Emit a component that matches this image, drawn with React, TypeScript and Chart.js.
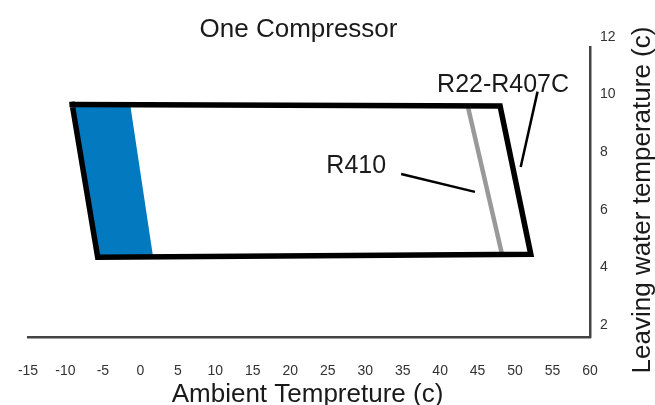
import { useEffect, useRef } from 'react';
import { Chart, registerables } from 'chart.js';

Chart.register(...registerables);

const FONT = '"Liberation Sans", Arial, Helvetica, sans-serif';

// Axis ticks
const yTickValues = [2, 4, 6, 8, 10, 12];
const xMin = -15;
const xMax = 60;
const xStep = 5;
const yMin = 1.58;
const yMax = 11.65;

// Operating envelope (black outline, R22-R407C)
const envelopeX = [-9.1, 48.0, 52.1, -5.7, -9.1];
const envelopeY = [9.65, 9.6, 4.45, 4.35, 9.65];

// Blue zone
const blueX = [-9.1, -1.35, 1.7, -5.7];
const blueY = [9.65, 9.63, 4.35, 4.35];

// R410 limit (grey line)
const r410X = [43.7, 48.3];
const r410Y = [9.58, 4.4];

// Leader lines
const leaderR22X = [53.0, 50.75];
const leaderR22Y = [10.1, 7.48];
const leaderR410X = [34.8, 44.65];
const leaderR410Y = [7.24, 6.62];

// Text annotations (data coordinates, text baseline)
const labelTexts = ['R22-R407C', 'R410'];
const labelX = [48.4, 28.8];
const labelY = [10.09, 7.28];

const titleText = 'One Compressor';
const titleAt = [21.1, 12.0];
const xTitle = 'Ambient Tempreture (c)';
const yTitle = 'Leaving water temperature (c)';

const pts = (xs: number[], ys: number[]) => xs.map((x, i) => ({ x, y: ys[i] }));

const textPlugin = {
  id: 'textPlugin',
  afterDraw(chart: any) {
    const { ctx, chartArea } = chart;
    const x = chart.scales.x;
    const y = chart.scales.y;
    ctx.save();
    ctx.fillStyle = '#1a1a1a';
    ctx.textAlign = 'center';
    ctx.textBaseline = 'alphabetic';
    ctx.font = `26px ${FONT}`;
    ctx.fillText(titleText, x.getPixelForValue(titleAt[0]), y.getPixelForValue(titleAt[1]));
    ctx.font = `25px ${FONT}`;
    labelTexts.forEach((t, i) => {
      ctx.fillText(t, x.getPixelForValue(labelX[i]), y.getPixelForValue(labelY[i]));
    });
    ctx.font = `26px ${FONT}`;
    ctx.fillText(xTitle, (chartArea.left + chartArea.right) / 2 - 1.5, chart.height - 3);
    ctx.translate(chartArea.right + 60, (chartArea.top + chartArea.bottom) / 2 + 8);
    ctx.rotate(-Math.PI / 2);
    ctx.fillText(yTitle, 0, 0);
    ctx.restore();
  },
};

export default function App() {
  const ref = useRef<HTMLCanvasElement>(null);
  useEffect(() => {
    document.body.style.margin = '0';
    const chart = new Chart(ref.current as HTMLCanvasElement, {
      type: 'scatter',
      data: {
        datasets: [
          {
            label: 'Zone',
            data: pts(blueX, blueY),
            showLine: true,
            fill: 'shape',
            backgroundColor: '#0379c0',
            borderColor: 'rgba(0,0,0,0)',
            borderWidth: 0,
            pointRadius: 0,
            order: 4,
          } as any,
          {
            label: 'R410',
            data: pts(r410X, r410Y),
            showLine: true,
            fill: false,
            borderColor: '#999999',
            borderWidth: 4.5,
            pointRadius: 0,
            order: 3,
          },
          {
            label: 'R22-R407C',
            data: pts(envelopeX, envelopeY),
            showLine: true,
            fill: false,
            borderColor: '#000000',
            borderWidth: 5.5,
            borderJoinStyle: 'miter',
            borderCapStyle: 'square',
            pointRadius: 0,
            order: 2,
          },
          {
            label: 'leader R22',
            data: pts(leaderR22X, leaderR22Y),
            showLine: true,
            fill: false,
            borderColor: '#000000',
            borderWidth: 2.5,
            pointRadius: 0,
            order: 1,
          },
          {
            label: 'leader R410',
            data: pts(leaderR410X, leaderR410Y),
            showLine: true,
            fill: false,
            borderColor: '#000000',
            borderWidth: 2.5,
            pointRadius: 0,
            order: 1,
          },
        ],
      },
      options: {
        responsive: false,
        animation: false,
        layout: { padding: { left: 28, top: 47, right: 0, bottom: 0 } },
        plugins: {
          legend: { display: false },
          tooltip: { enabled: false },
          title: { display: false },
        },
        scales: {
          x: {
            type: 'linear',
            position: 'bottom',
            min: xMin,
            max: xMax,
            afterFit: (axis: any) => {
              axis.height = 68;
              axis.paddingLeft = 0;
              axis.paddingRight = 0;
            },
            ticks: {
              stepSize: xStep,
              padding: 26,
              autoSkip: false,
              maxRotation: 0,
              color: '#333333',
              font: { family: FONT, size: 14 },
            },
            grid: { display: false, drawTicks: false },
            border: { display: true, color: '#444444', width: 2.5 },
          },
          y: {
            type: 'linear',
            position: 'right',
            min: yMin,
            max: yMax,
            afterBuildTicks: (axis: any) => {
              axis.ticks = yTickValues.map((v) => ({ value: v }));
            },
            afterFit: (axis: any) => {
              axis.width = 65;
            },
            ticks: {
              padding: 10,
              color: '#333333',
              font: { family: FONT, size: 14 },
            },
            grid: { display: false, drawTicks: false },
            border: { display: true, color: '#444444', width: 2.5 },
          },
        },
      },
      plugins: [textPlugin],
    });
    return () => chart.destroy();
  }, []);
  return (
    <div style={{ width: 655, height: 405 }}>
      <canvas ref={ref} width={655} height={405} style={{ display: 'block', width: 655, height: 405 }} />
    </div>
  );
}
